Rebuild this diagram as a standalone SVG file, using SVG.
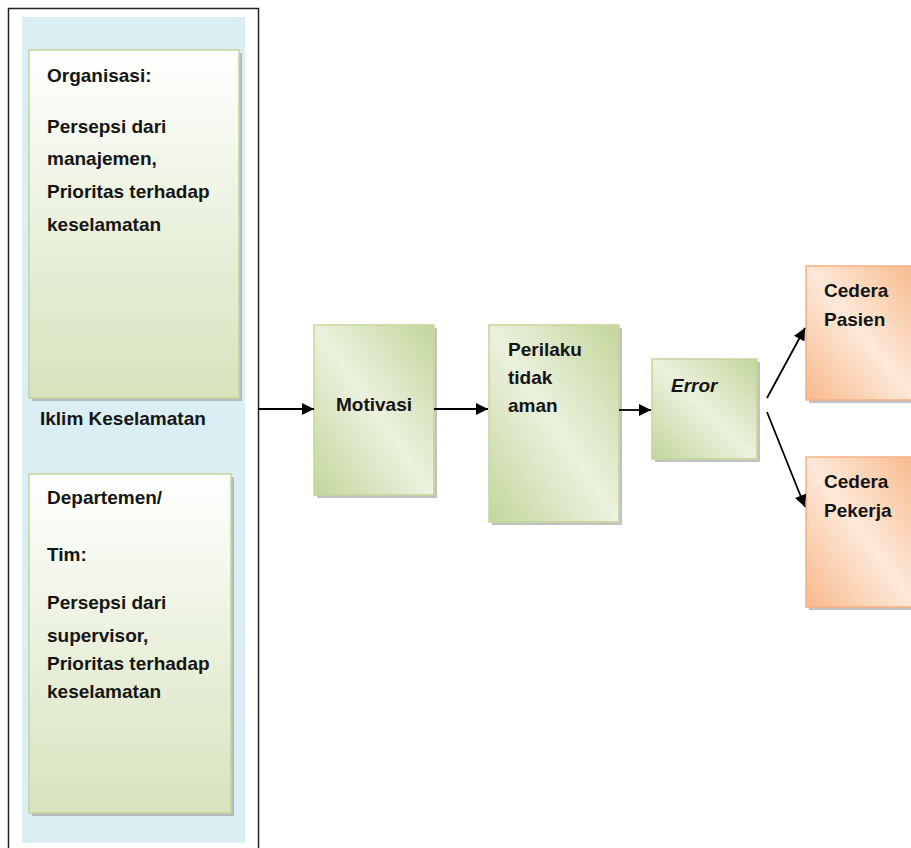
<svg xmlns="http://www.w3.org/2000/svg" width="911" height="848" viewBox="0 0 911 848">
<defs>
<linearGradient id="gOrg" x1="0" y1="0" x2="0" y2="1">
<stop offset="0" stop-color="#ffffff"/><stop offset="1" stop-color="#d6e3bc"/>
</linearGradient>
<linearGradient id="gGreen" x1="1" y1="0" x2="0" y2="1">
<stop offset="0" stop-color="#c3d69b"/><stop offset="0.5" stop-color="#ebf1de"/><stop offset="1" stop-color="#c3d69b"/>
</linearGradient>
<linearGradient id="gOrange" x1="1" y1="0" x2="0" y2="1">
<stop offset="0" stop-color="#f8b98b"/><stop offset="0.5" stop-color="#fde9d9"/><stop offset="1" stop-color="#f8b98b"/>
</linearGradient>
<marker id="arr" viewBox="0 0 10 10" refX="10" refY="5" markerWidth="13" markerHeight="12" markerUnits="userSpaceOnUse" orient="auto">
<path d="M0,0 L10,5 L0,10 z" fill="#000"/>
</marker>
</defs>
<style>
.t{font-family:"Liberation Sans",Arial,sans-serif;font-weight:bold;font-size:19px;fill:#151515}
.sh{fill:#9a9a9a;opacity:0.6}
.gb{stroke:#c3d69b;stroke-width:1.5}
.ob{stroke:#f5b084;stroke-width:1.5}
.c{stroke:#000;stroke-width:1.8;fill:none;marker-end:url(#arr)}
</style>
<rect x="0" y="0" width="911" height="848" fill="#fff"/>
<g id="frame">
<rect x="8.5" y="8.5" width="250" height="850" fill="none" stroke="#222" stroke-width="1.5"/>
<rect x="22" y="17" width="223" height="826" fill="#daeef3"/>
<text class="t" x="40" y="425">Iklim Keselamatan</text>
</g>
<g id="organisasi">
<rect class="sh" x="32" y="53" width="210" height="348"/>
<rect class="gb" x="29" y="50" width="210" height="348" fill="url(#gOrg)"/>
<text class="t" x="47" y="82">Organisasi:</text>
<text class="t" x="47" y="133">Persepsi dari</text>
<text class="t" x="47" y="165">manajemen,</text>
<text class="t" x="47" y="198">Prioritas terhadap</text>
<text class="t" x="47" y="231">keselamatan</text>
</g>
<g id="departemen">
<rect class="sh" x="32" y="477" width="202" height="339"/>
<rect class="gb" x="29" y="474" width="202" height="339" fill="url(#gOrg)"/>
<text class="t" x="47" y="504">Departemen/</text>
<text class="t" x="47" y="561">Tim:</text>
<text class="t" x="47" y="609">Persepsi dari</text>
<text class="t" x="47" y="642">supervisor,</text>
<text class="t" x="47" y="670">Prioritas terhadap</text>
<text class="t" x="47" y="698">keselamatan</text>
</g>
<g id="motivasi">
<rect class="sh" x="317" y="328" width="120" height="170"/>
<rect class="gb" x="314" y="325" width="120" height="170" fill="url(#gGreen)"/>
<text class="t" x="374" y="411" text-anchor="middle">Motivasi</text>
</g>
<g id="perilaku">
<rect class="sh" x="492" y="328" width="130" height="197"/>
<rect class="gb" x="489" y="325" width="130" height="197" fill="url(#gGreen)"/>
<text class="t" x="508" y="356">Perilaku</text>
<text class="t" x="508" y="384">tidak</text>
<text class="t" x="508" y="412">aman</text>
</g>
<g id="error">
<rect class="sh" x="655" y="362" width="105" height="100"/>
<rect class="gb" x="652" y="359" width="105" height="100" fill="url(#gGreen)"/>
<text class="t" x="671" y="392" font-style="italic">Error</text>
</g>
<g id="cedera-pasien">
<rect class="sh" x="809" y="269" width="110" height="134"/>
<rect class="ob" x="806" y="266" width="110" height="134" fill="url(#gOrange)"/>
<text class="t" x="824" y="297">Cedera</text>
<text class="t" x="824" y="326">Pasien</text>
</g>
<g id="cedera-pekerja">
<rect class="sh" x="809" y="460" width="110" height="150"/>
<rect class="ob" x="806" y="457" width="110" height="150" fill="url(#gOrange)"/>
<text class="t" x="824" y="488">Cedera</text>
<text class="t" x="824" y="517">Pekerja</text>
</g>
<g id="connectors">
<line class="c" x1="258" y1="409" x2="314" y2="409"/>
<line class="c" x1="434" y1="409" x2="488" y2="409"/>
<line class="c" x1="619" y1="410" x2="651" y2="410"/>
<line class="c" x1="767" y1="398" x2="805" y2="328"/>
<line class="c" x1="767" y1="412" x2="805" y2="507"/>
</g>
</svg>
